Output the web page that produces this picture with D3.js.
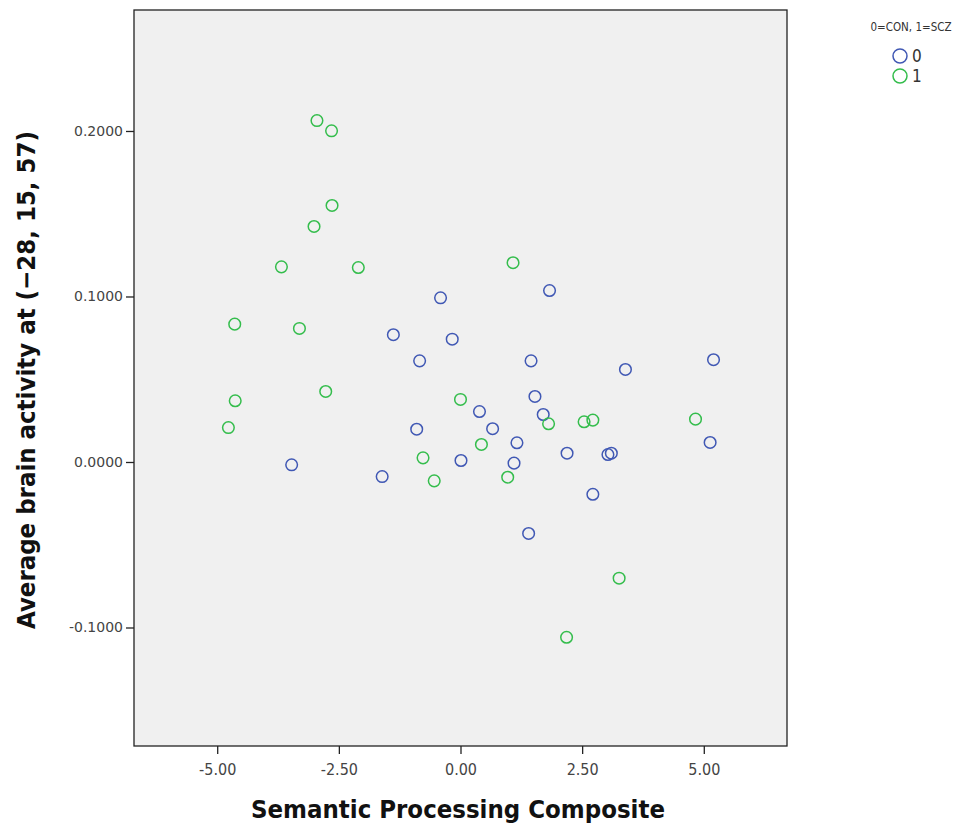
<!DOCTYPE html>
<html>
<head>
<meta charset="utf-8">
<script src="https://cdn.jsdelivr.net/npm/d3@7"></script>
<style>
  body { margin: 0; background: #fff; }
  svg { display: block; }
</style>
</head>
<body>
<svg id="chart" width="969" height="830"></svg>
<script>
// group 0 = CON (blue), group 1 = SCZ (green)
var conX = [-0.41, 1.83, -1.38, -0.17, -0.84, 1.45, 3.39, 5.20, 1.53, 1.70, 0.39, -0.90,
            0.66, 1.16, -3.47, -1.61, 0.01, 1.10, 2.19, 3.03, 3.10, 5.13, 2.72, 1.40];
var conY = [0.0992, 0.1036, 0.0769, 0.0742, 0.0611, 0.0611, 0.0559, 0.0618, 0.0396, 0.0287, 0.0305, 0.0198,
            0.0201, 0.0116, -0.0017, -0.0088, 0.0009, -0.0007, 0.0053, 0.0045, 0.0053, 0.0118, -0.0195, -0.0432];
var sczX = [-2.95, -2.65, -2.64, -3.01, -3.68, -2.10, 1.08, -4.64, -3.31, -2.77, -4.63, -4.77,
            0.00, -0.77, -0.54, 0.43, 0.97, 1.81, 2.54, 2.72, 4.83, 3.26, 2.18];
var sczY = [0.2063, 0.2001, 0.1550, 0.1423, 0.1179, 0.1175, 0.1204, 0.0833, 0.0807, 0.0426, 0.0370, 0.0208,
            0.0378, 0.0025, -0.0114, 0.0106, -0.0092, 0.0231, 0.0243, 0.0253, 0.0259, -0.0702, -0.1059];
var xTicks = [-5, -2.5, 0, 2.5, 5];
var yTicks = [-0.1, 0, 0.1, 0.2];
var groupLabels = ["0", "1"];
var legendTitle = "0=CON, 1=SCZ";

var colors = ["#4058b4", "#34bd4c"];

var plot = {left: 134, right: 787, top: 10, bottom: 746};

var svg = d3.select("#chart");

var x = d3.scaleLinear().domain([-6.71, 6.71]).range([plot.left, plot.right]);
var y = d3.scaleLinear().domain([-0.1716, 0.2731]).range([plot.bottom, plot.top]);

/* plot background */
svg.append("rect")
    .attr("x", plot.left)
    .attr("y", plot.top)
    .attr("width", plot.right - plot.left)
    .attr("height", plot.bottom - plot.top)
    .attr("fill", "#f0f0f0")
    .attr("stroke", "#222")
    .attr("stroke-width", 1.3);

/* axes */
var gx = svg.append("g")
    .attr("transform", "translate(0," + plot.bottom + ")")
    .call(d3.axisBottom(x).tickValues(xTicks).tickSize(8).tickPadding(10)
        .tickFormat(d => d < 0 ? "-" + Math.abs(d).toFixed(2) : d.toFixed(2)));
var gy = svg.append("g")
    .attr("transform", "translate(" + plot.left + ",0)")
    .call(d3.axisLeft(y).tickValues(yTicks).tickSize(8).tickPadding(3)
        .tickFormat(d => d < 0 ? "-" + Math.abs(d).toFixed(4) : d.toFixed(4)));

[gx, gy].forEach(function(g) {
    g.select(".domain").remove();
    g.selectAll(".tick line").attr("stroke", "#222").attr("stroke-width", 1.3);
    g.selectAll(".tick text")
        .attr("fill", "#444")
        .attr("font-family", "DejaVu Sans")
        .attr("font-size", 14);
});
gx.selectAll(".tick text")
    .attr("font-family", "DejaVu Sans Condensed")
    .attr("font-size", 16);

/* axis titles */
svg.append("text")
    .attr("x", 458)
    .attr("y", 818)
    .attr("text-anchor", "middle")
    .attr("font-family", "DejaVu Sans Condensed")
    .attr("font-weight", "bold")
    .attr("font-size", 25.5)
    .attr("fill", "#111")
    .text("Semantic Processing Composite");

svg.append("text")
    .attr("transform", "translate(35," + 380 + ") rotate(-90)")
    .attr("text-anchor", "middle")
    .attr("font-family", "DejaVu Sans Condensed")
    .attr("font-weight", "bold")
    .attr("font-size", 25.5)
    .attr("fill", "#111")
    .text("Average brain activity at (\u221228, 15, 57)");

/* points */
var con = conX.map((v, i) => ({x: v, y: conY[i]}));
var scz = sczX.map((v, i) => ({x: v, y: sczY[i]}));

[con, scz].forEach(function(data, gi) {
    svg.append("g")
        .selectAll("circle")
        .data(data)
        .join("circle")
        .attr("cx", d => x(d.x))
        .attr("cy", d => y(d.y))
        .attr("r", 5.8)
        .attr("fill", "none")
        .attr("stroke", colors[gi])
        .attr("stroke-width", 1.5);
});

/* legend */
var legend = svg.append("g");
legend.append("text")
    .attr("x", 911)
    .attr("y", 31)
    .attr("text-anchor", "middle")
    .attr("font-family", "DejaVu Sans Condensed")
    .attr("font-size", 11.5)
    .attr("fill", "#333")
    .text(legendTitle);

groupLabels.forEach(function(lbl, i) {
    legend.append("circle")
        .attr("cx", 900)
        .attr("cy", 56 + i * 20)
        .attr("r", 7)
        .attr("fill", "none")
        .attr("stroke", colors[i])
        .attr("stroke-width", 1.5);
    legend.append("text")
        .attr("x", 912)
        .attr("y", 62 + i * 20)
        .attr("font-family", "DejaVu Sans Condensed")
        .attr("font-size", 17)
        .attr("fill", "#333")
        .text(lbl);
});
</script>
</body>
</html>
